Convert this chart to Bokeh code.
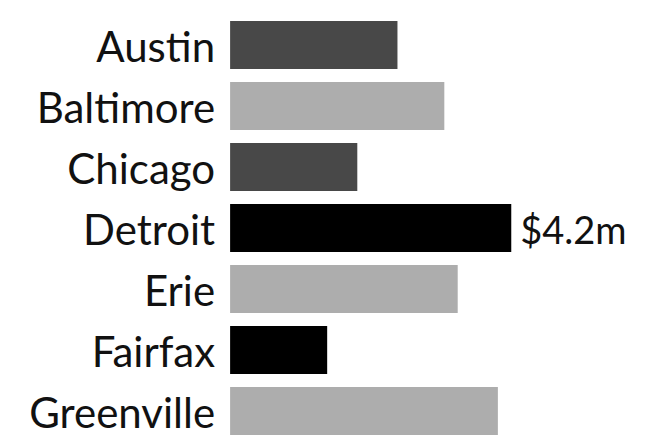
from bokeh.plotting import figure
from bokeh.models import ColumnDataSource, Range1d, FactorRange
from bokeh.core.properties import value
from bokeh.embed import file_html
from bokeh.resources import INLINE

cities = ["Austin", "Baltimore", "Chicago", "Detroit", "Erie", "Fairfax", "Greenville"]
amounts = [2.5, 3.2, 1.9, 4.2, 3.4, 1.45, 4.0]
colors = ["#484848", "#adadad", "#484848", "#000000", "#adadad", "#000000", "#adadad"]
annotations = ["", "", "", "$4.2m", "", "", ""]

src = ColumnDataSource(dict(city=cities, amount=amounts, color=colors, note=annotations))

p = figure(width=650, height=448, output_backend="svg", toolbar_location=None,
           y_range=FactorRange(factors=cities[::-1], range_padding=0),
           x_range=Range1d(-3.43, 6.28),
           min_border_left=0, min_border_right=0, min_border_top=14, min_border_bottom=7)
p.axis.visible = False
p.grid.visible = False
p.outline_line_color = None
p.background_fill_color = "white"

p.hbar(y="city", right="amount", left=0, height=0.785, fill_color="color", line_color=None, source=src)

font = value("Lato")
p.text(x=0, y="city", text="city", source=src, x_offset=-15, y_offset=1, text_align="right",
       text_baseline="middle", text_font=font, text_font_size="42px", text_color="#111111")
p.text(x="amount", y="city", text="note", source=src, x_offset=9, y_offset=1, text_align="left",
       text_baseline="middle", text_font=font, text_font_size="38px", text_color="#111111")

open("out.html", "w").write(file_html(p, INLINE))
